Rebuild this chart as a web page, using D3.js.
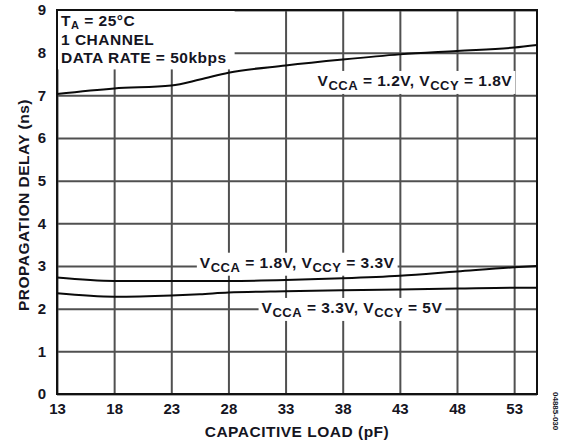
<!DOCTYPE html>
<html><head><meta charset="utf-8">
<script src="https://cdn.jsdelivr.net/npm/d3@7"></script>
<style>
body{margin:0;background:#fff}
text{font-family:"Liberation Sans",Arial,Helvetica,sans-serif;font-weight:bold;fill:#15151f}
.lbl{letter-spacing:0.5px}
</style>
</head><body>
<svg id="c" width="562" height="443"></svg>
<script>
// ---- data ----
const capLoad = [13, 18, 23, 25.5, 28, 33, 38, 43, 48, 53, 55];
const delay12 = [7.03, 7.16, 7.23, 7.37, 7.53, 7.70, 7.84, 7.96, 8.04, 8.12, 8.18];
const delay18 = [2.73, 2.65, 2.65, 2.65, 2.65, 2.67, 2.71, 2.77, 2.87, 2.97, 3.00];
const delay33 = [2.36, 2.28, 2.31, 2.34, 2.38, 2.41, 2.43, 2.45, 2.47, 2.49, 2.49];
const xTickValues = [13, 18, 23, 28, 33, 38, 43, 48, 53];
const yTickValues = [0, 1, 2, 3, 4, 5, 6, 7, 8, 9];
const xDomain = [13, 55];
const yDomain = [0, 9];
const xTitle = "CAPACITIVE LOAD (pF)";
const yTitle = "PROPAGATION DELAY (ns)";
const conditions = [["T", "A", " = 25°C"], ["1 CHANNEL"], ["DATA RATE = 50kbps"]];
const seriesLabels = [
  {parts: [["V",0],["CCA",1],[" = 1.2V, V",0],["CCY",1],[" = 1.8V",0]], at: [35.8, 7.22]},
  {parts: [["V",0],["CCA",1],[" = 1.8V, V",0],["CCY",1],[" = 3.3V",0]], at: [25.5, 2.96]},
  {parts: [["V",0],["CCA",1],[" = 3.3V, V",0],["CCY",1],[" = 5V",0]], at: [30.9, 1.90]}
];
const figureId = "04885-030";

// ---- layout ----
const svg = d3.select("#c");
const mLeft = 57, mRight = 537, mTop = 10, mBottom = 394;
const x = d3.scaleLinear().domain(xDomain).range([mLeft, mRight]);
const y = d3.scaleLinear().domain(yDomain).range([mBottom, mTop]);
const gridColor = "#505050";

// grid
const gx = svg.append("g").attr("transform", `translate(0,${mBottom})`)
  .call(d3.axisBottom(x).tickValues(xTickValues).tickSize(-(mBottom - mTop)).tickFormat(""));
gx.select(".domain").remove();
gx.selectAll("line").attr("stroke", gridColor).attr("stroke-width", 2);
const gy = svg.append("g").attr("transform", `translate(${mLeft},0)`)
  .call(d3.axisLeft(y).tickValues(yTickValues).tickSize(-(mRight - mLeft)).tickFormat(""));
gy.select(".domain").remove();
gy.selectAll("line").attr("stroke", gridColor).attr("stroke-width", 2);

// label layer (white boxes)
const boxLayer = svg.append("g");
svg.append("rect").attr("x", mLeft).attr("y", mTop)
  .attr("width", mRight - mLeft).attr("height", mBottom - mTop)
  .attr("fill", "none").attr("stroke", "#111").attr("stroke-width", 2);

// curves
const line = d3.line().x(d => x(d[0])).y(d => y(d[1])).curve(d3.curveMonotoneX);
[delay12, delay18, delay33].forEach(vals => {
  svg.append("path").datum(capLoad.map((c, i) => [c, vals[i]]))
    .attr("d", line).attr("fill", "none").attr("stroke", "#0a0a0a").attr("stroke-width", 2);
});

// tick labels
svg.append("g").attr("transform", `translate(0,${mBottom})`)
  .call(d3.axisBottom(x).tickValues(xTickValues).tickSize(0).tickPadding(9))
  .call(g => g.select(".domain").remove())
  .selectAll("text").attr("font-size", 15).attr("fill", "#15151f").attr("font-family", null);
svg.append("g").attr("transform", `translate(${mLeft},0)`)
  .call(d3.axisLeft(y).tickValues(yTickValues).tickSize(0).tickPadding(11))
  .call(g => g.select(".domain").remove())
  .selectAll("text").attr("font-size", 15).attr("fill", "#15151f").attr("font-family", null);

// axis titles
svg.append("text").attr("class", "lbl").attr("x", (mLeft + mRight) / 2).attr("y", 437)
  .attr("text-anchor", "middle").attr("font-size", 15.5).text(xTitle);
svg.append("text").attr("class", "lbl").attr("transform", `translate(29,${(mTop + mBottom) / 2 + 3}) rotate(-90)`)
  .attr("text-anchor", "middle").attr("font-size", 15.5).text(yTitle);

// conditions block
const cond = boxLayer.append("g");
conditions.forEach((row, i) => {
  const t = cond.append("text").attr("class", "lbl").attr("x", mLeft + 4).attr("y", 26 + i * 18.7).attr("font-size", 15.5);
  t.append("tspan").text(row[0]);
  if (row.length > 1) {
    t.append("tspan").attr("font-size", 11).attr("dy", 2.5).text(row[1]);
    t.append("tspan").attr("dy", -2.5).text(row[2]);
  }
});
const cb = cond.node().getBBox();
cond.insert("rect", "text").attr("x", mLeft).attr("y", mTop)
  .attr("width", cb.x + cb.width + 8 - mLeft).attr("height", cb.y + cb.height + 3 - mTop).attr("fill", "#fff");

// series labels
seriesLabels.forEach(lab => {
  const g = boxLayer.append("g");
  const t = g.append("text").attr("class", "lbl").attr("x", x(lab.at[0])).attr("y", y(lab.at[1])).attr("font-size", 15.5);
  let sub = false;
  lab.parts.forEach(([s, isSub]) => {
    const sp = t.append("tspan").text(s);
    if (isSub && !sub) sp.attr("dy", 4).attr("font-size", 13);
    else if (isSub) sp.attr("font-size", 13);
    else if (sub) sp.attr("dy", -4);
    sub = !!isSub;
  });
  const b = t.node().getBBox();
  g.insert("rect", "text").attr("x", b.x - 3).attr("y", b.y - 1)
    .attr("width", b.width + 6).attr("height", b.height + 2).attr("fill", "#fff");
});

// figure id
svg.append("text").attr("transform", "translate(553,392) rotate(90)")
  .attr("font-size", 8).text(figureId);
</script>
</body></html>
